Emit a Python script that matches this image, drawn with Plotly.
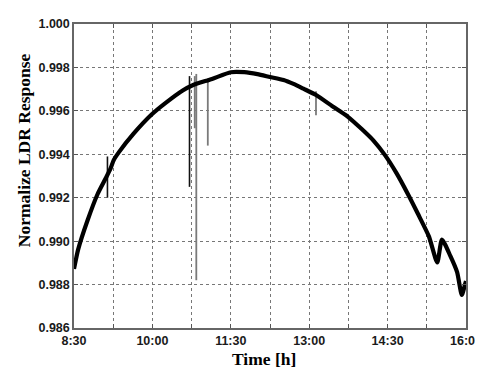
import plotly.graph_objects as go

# ---- data ----
time_h = [8.50, 8.58, 8.76, 8.95, 9.11, 9.20, 9.26, 9.36, 9.64, 9.98,
          10.26, 10.58, 10.76, 11.14, 11.50, 11.76, 12.01, 12.25, 12.51,
          12.70, 12.89, 13.14, 13.45, 13.73, 14.01, 14.23, 14.45, 14.67,
          14.89, 15.08, 15.29, 15.45, 15.54, 15.70, 15.83, 15.92, 15.98, 16.00]
response = [0.98872, 0.98962, 0.99096, 0.99216, 0.99291, 0.99335, 0.99373,
            0.99410, 0.99495, 0.99582, 0.99638, 0.99694, 0.99717, 0.99747,
            0.99778, 0.99778, 0.99769, 0.99756, 0.99742, 0.99724, 0.99702,
            0.99672, 0.99620, 0.99575, 0.99515, 0.99463, 0.99396, 0.99313,
            0.99216, 0.99126, 0.99022, 0.98902, 0.99007, 0.98932, 0.98857,
            0.98752, 0.98800, 0.98816]

spike_times_dark = [9.14, 10.71]
spike_tops_dark = [0.9939, 0.9976]
spike_bottoms_dark = [0.9920, 0.9925]

spike_times_gray = [10.81, 10.84, 11.06, 13.13]
spike_tops_gray = [0.9976, 0.9977, 0.9975, 0.9969]
spike_bottoms_gray = [0.9952, 0.9882, 0.9944, 0.9958]

tick_vals = [8.5, 9.25, 10.0, 10.75, 11.5, 12.25, 13.0, 13.75, 14.5, 15.25, 16.0]
tick_text = ["8:30", "", "10:00", "", "11:30", "", "13:00", "", "14:30", "", "16:00"]
y_ticks = [0.986, 0.988, 0.990, 0.992, 0.994, 0.996, 0.998, 1.000]


def segments(ts, tops, bots):
    xs, ys = [], []
    for t, a, b in zip(ts, tops, bots):
        xs += [t, t, None]
        ys += [a, b, None]
    return xs, ys


fig = go.Figure()

gx, gy = segments(spike_times_gray, spike_tops_gray, spike_bottoms_gray)
fig.add_trace(go.Scatter(x=gx, y=gy, mode="lines",
                         line=dict(color="#7a7a7a", width=1.8),
                         showlegend=False, hoverinfo="skip"))
dx, dy = segments(spike_times_dark, spike_tops_dark, spike_bottoms_dark)
fig.add_trace(go.Scatter(x=dx, y=dy, mode="lines",
                         line=dict(color="#111111", width=1.6),
                         showlegend=False, hoverinfo="skip"))
fig.add_trace(go.Scatter(x=time_h, y=response, mode="lines",
                         line=dict(color="black", width=4.2, shape="spline", smoothing=0.6),
                         showlegend=False))

tickfont = dict(family="Liberation Sans, Arial, sans-serif", size=12.5,
                color="#1a1a1a", weight="bold")
titlefont = dict(family="Liberation Serif, Times New Roman, serif", size=17.5,
                 color="black", weight="bold")

fig.update_xaxes(range=[8.5, 16.0], tickvals=tick_vals, ticktext=tick_text,
                 ticks="inside", ticklen=4, tickcolor="#555555",
                 showgrid=True, gridcolor="#777777", griddash="dot", gridwidth=1,
                 showline=True, linecolor="#666666", linewidth=1.5, mirror="allticks",
                 zeroline=False, tickfont=tickfont)
fig.update_yaxes(range=[0.986, 1.000], tickvals=y_ticks,
                 ticktext=[f"{v:.3f}" for v in y_ticks],
                 ticks="inside", ticklen=4, tickcolor="#555555",
                 showgrid=True, gridcolor="#777777", griddash="dot", gridwidth=1,
                 showline=True, linecolor="#666666", linewidth=1.5, mirror="allticks",
                 zeroline=False, tickfont=tickfont)

fig.add_annotation(text="Normalize LDR Response", xref="paper", yref="paper",
                   x=-0.1275, y=0.585, xanchor="center", yanchor="middle",
                   textangle=-90, showarrow=False, font=titlefont)
fig.add_annotation(text="Time [h]", xref="paper", yref="paper",
                   x=0.485, y=-0.103, xanchor="center", yanchor="middle",
                   showarrow=False, font=titlefont)

fig.add_shape(type="rect", xref="paper", yref="paper",
              x0=1.026, x1=1.031, y0=0.466, y1=0.474,
              fillcolor="#3b6cc4", line=dict(width=0))
fig.add_shape(type="line", xref="paper", yref="paper",
              x0=1.0325, x1=1.0325, y0=-0.03, y1=1.0,
              line=dict(color="#cfdcf2", width=1, dash="dot"))

fig.update_layout(width=483, height=368,
                  margin=dict(l=66, r=17, t=9, b=48),
                  plot_bgcolor="white", paper_bgcolor="white")

fig.write_html("out.html")
